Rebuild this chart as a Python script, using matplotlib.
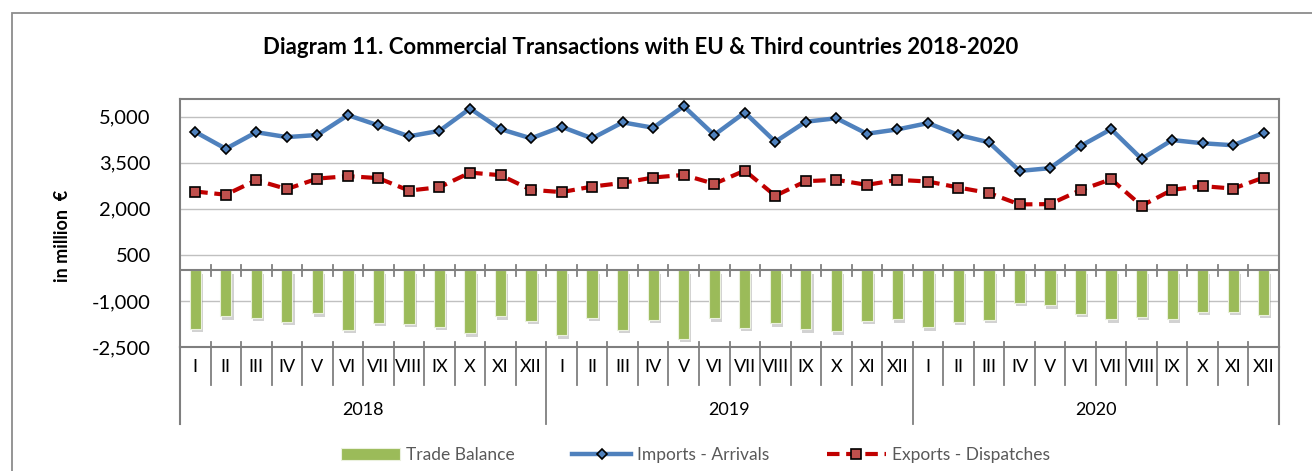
import matplotlib
matplotlib.use("Agg")
import matplotlib.pyplot as plt
import matplotlib.patheffects as pe
from matplotlib.patches import Rectangle, Patch
from matplotlib.lines import Line2D
import numpy as np

FONT = ["Lato", "DejaVu Sans"]
plt.rcParams["font.family"] = FONT

# Data (million EUR)
years = ["2018", "2019", "2020"]
months = ["I", "II", "III", "IV", "V", "VI", "VII", "VIII", "IX", "X", "XI", "XII"]

imports_2018 = [4500, 3950, 4490, 4330, 4400, 5045, 4710, 4355, 4535, 5260, 4590, 4290]
imports_2019 = [4665, 4290, 4810, 4635, 5335, 4400, 5130, 4180, 4830, 4945, 4440, 4580]
imports_2020 = [4785, 4400, 4160, 3230, 3320, 4040, 4590, 3620, 4235, 4130, 4065, 4470]

exports_2018 = [2560, 2455, 2930, 2640, 2980, 3060, 2995, 2590, 2700, 3175, 3090, 2615]
exports_2019 = [2540, 2720, 2840, 3015, 3100, 2810, 3240, 2420, 2895, 2940, 2775, 2940]
exports_2020 = [2885, 2690, 2510, 2140, 2150, 2605, 2960, 2095, 2615, 2735, 2655, 3015]

balance_2018 = [-1900, -1500, -1545, -1685, -1405, -1945, -1705, -1750, -1835, -2060, -1500, -1640]
balance_2019 = [-2115, -1555, -1945, -1620, -2225, -1565, -1880, -1735, -1920, -1985, -1640, -1605]
balance_2020 = [-1865, -1685, -1620, -1055, -1145, -1425, -1595, -1510, -1590, -1360, -1360, -1445]

yticks = [-2500, -1000, 500, 2000, 3500, 5000]

GREEN = "#9BBB59"
BLUE = "#4F81BD"
RED = "#C00000"
RED_MARK = "#C0504D"
AXIS_GREY = "#7F7F7F"
GRID = "#C0C0C0"
LEGEND_TXT = "#595959"

imports = imports_2018 + imports_2019 + imports_2020
exports = exports_2018 + exports_2019 + exports_2020
balance = balance_2018 + balance_2019 + balance_2020
labels = months * len(years)
x = np.arange(len(labels))
n_per_year = len(months)

fig = plt.figure(figsize=(13.12, 4.71), dpi=100, facecolor="white")
ax = fig.add_axes([180 / 1312, 1 - 347 / 471, (1279 - 180) / 1312, (347 - 98.7) / 471])

# outer chart border (cut off at right and bottom like the reference)
fig.patches.append(Rectangle((12 / 1312, -0.05), 1.2, 1.05 - 13 / 471,
                             transform=fig.transFigure, fill=False,
                             edgecolor="#8C8C8C", lw=1.3))

ax.set_xlim(-0.5, len(labels) - 0.5)
ax.set_ylim(-2500, 5580)
ax.set_yticks(yticks)
ax.set_yticklabels([f"{v:,}" for v in yticks], fontsize=14.5)
ax.tick_params(axis="y", length=0, pad=21)
ax.set_xticks([])
ax.grid(axis="y", color=GRID, lw=1.0, zorder=0)
ax.set_axisbelow(True)
for s in ax.spines.values():
    s.set_color(AXIS_GREY)
    s.set_linewidth(1.5)

bars = ax.bar(x, balance, width=0.37, color=GREEN, edgecolor="#EBF1DE",
              lw=0.8, zorder=2, label="Trade Balance")
for b in bars:
    b.set_path_effects([pe.SimplePatchShadow(offset=(1.5, -2.5), shadow_rgbFace="#808080",
                                             alpha=0.35), pe.Normal()])

# zero axis with crossing tick marks
ax.axhline(0, color=AXIS_GREY, lw=1.5, zorder=3)
for k in range(1, len(labels)):
    ax.plot([k - 0.5, k - 0.5], [-180, 180], color=AXIS_GREY, lw=1.3, zorder=3)

ax.plot(x, imports, color=BLUE, lw=3.2, marker="D", markersize=5,
        markerfacecolor=BLUE, markeredgecolor="black", markeredgewidth=1.2,
        zorder=4, label="Imports - Arrivals")
ax.plot(x, exports, color=RED, lw=3.0, ls=(0, (3, 1.6)), marker="s", markersize=6.5,
        markerfacecolor=RED_MARK, markeredgecolor="black", markeredgewidth=1.2,
        zorder=4, label="Exports - Dispatches")

# multi-level category axis below the plot
tb = ax.get_xaxis_transform()
for k in range(1, len(labels)):
    bottom = -0.31 if k % n_per_year == 0 else -0.153
    ax.plot([k - 0.5, k - 0.5], [0.02, bottom], transform=tb, color=AXIS_GREY,
            lw=1.3, clip_on=False)
for edge in (-0.5, len(labels) - 0.5):
    ax.plot([edge, edge], [0, -0.31], transform=tb, color=AXIS_GREY, lw=1.5, clip_on=False)
for xi, lab in zip(x, labels):
    ax.text(xi, -0.081, lab, transform=tb, ha="center", va="center", fontsize=13)
for i, yr in enumerate(years):
    ax.text(i * n_per_year + (n_per_year - 1) / 2, -0.254, yr, transform=tb,
            ha="center", va="center", fontsize=13)

fig.text(0.488, 0.90, "Diagram 11. Commercial Transactions with EU & Third countries 2018-2020",
         ha="center", va="center", fontsize=16, fontweight="bold")
fig.text(62 / 1312, 0.499, "in million  €", rotation=90, ha="center", va="center",
         fontsize=13, fontweight="bold")

handles = [
    Patch(facecolor=GREEN, edgecolor="#EBF1DE", lw=0.8),
    Line2D([], [], color=BLUE, lw=3.2, marker="D", markersize=5, markerfacecolor=BLUE,
           markeredgecolor="black", markeredgewidth=1.2),
    Line2D([], [], color=RED, lw=3.0, ls=(0, (3, 1.6)), marker="s", markersize=6.5,
           markerfacecolor=RED_MARK, markeredgecolor="black", markeredgewidth=1.2),
]
leg = fig.legend(handles, ["Trade Balance", "Imports - Arrivals", "Exports - Dispatches"],
                 loc="center", bbox_to_anchor=(0.53, 0.034), ncol=3, frameon=False,
                 fontsize=12.5, handlelength=3.4, handletextpad=0.35, columnspacing=3.3,
                 numpoints=1)
for t in leg.get_texts():
    t.set_color(LEGEND_TXT)

fig.savefig("out.png", dpi=100, facecolor="white")
